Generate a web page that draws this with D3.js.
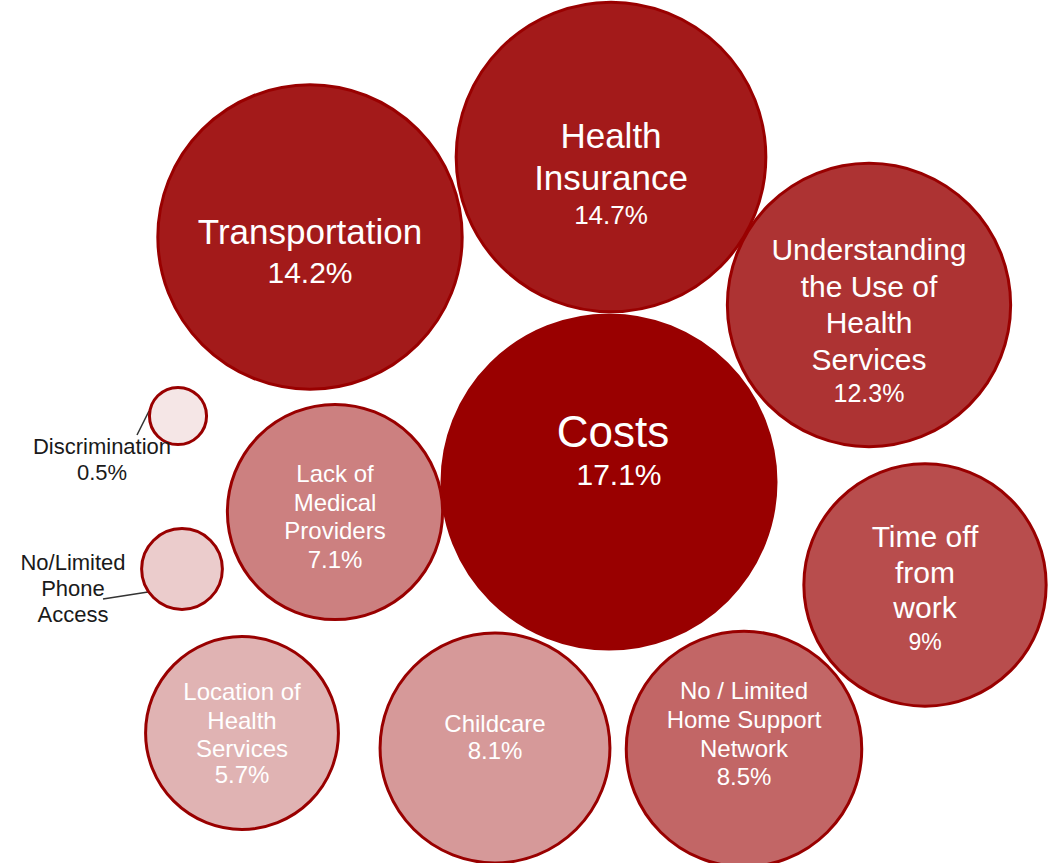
<!DOCTYPE html>
<html>
<head>
<meta charset="utf-8">
<script src="https://cdn.jsdelivr.net/npm/d3@7"></script>
<style>
  html, body { margin: 0; padding: 0; background: #fff; }
  svg { display: block; font-family: Arial, "Liberation Sans", sans-serif; }
</style>
</head>
<body>
<div id="chart"></div>
<script>
// data
const categories = ["Costs", "Health Insurance", "Transportation", "Understanding the Use of Health Services",
  "Time off from work", "No / Limited Home Support Network", "Childcare", "Lack of Medical Providers",
  "Location of Health Services", "No/Limited Phone Access", "Discrimination"];
const values = [17.1, 14.7, 14.2, 12.3, 9, 8.5, 8.1, 7.1, 5.7, 1.0, 0.5];
const valueLabels = ["17.1%", "14.7%", "14.2%", "12.3%", "9%", "8.5%", "8.1%", "7.1%", "5.7%", "", "0.5%"];
const labelLines = [
  ["Costs"], ["Health", "Insurance"], ["Transportation"], ["Understanding", "the Use of", "Health", "Services"],
  ["Time off", "from", "work"], ["No / Limited", "Home Support", "Network"], ["Childcare"],
  ["Lack of", "Medical", "Providers"], ["Location of", "Health", "Services"], ["No/Limited", "Phone", "Access"],
  ["Discrimination"]
];

const data = categories.map(function(c, i) {
  return {name: c, value: values[i], pct: valueLabels[i], lines: labelLines[i]};
});

// layout (bubble centres, label placement) - kept apart from the data
const centers = {
  "Costs": [609, 482], "Health Insurance": [611, 157], "Transportation": [310, 237],
  "Understanding the Use of Health Services": [869, 305], "Time off from work": [925, 585],
  "No / Limited Home Support Network": [744, 749], "Childcare": [495, 748],
  "Lack of Medical Providers": [335, 512], "Location of Health Services": [242, 733],
  "No/Limited Phone Access": [182, 569], "Discrimination": [178, 416]
};
// first baseline offset, line height, title size, value size, value gap, outside label pos
const labelStyle = {
  "Costs": {dy: -35, lh: 38, fs: 44, vs: 30, dx: 4, vdx: 10},
  "Health Insurance": {dy: -9, lh: 42, fs: 35, vs: 26, vgap: 34},
  "Transportation": {dy: 7, lh: 39, fs: 35, vs: 30},
  "Understanding the Use of Health Services": {dy: -45, lh: 36.7, fs: 30, vs: 25, vgap: 32},
  "Time off from work": {dy: -38, lh: 35.5, fs: 30, vs: 23, vgap: 32},
  "No / Limited Home Support Network": {dy: -50, lh: 29, fs: 24, vs: 24, vgap: 28},
  "Childcare": {dy: -16, lh: 27, fs: 24, vs: 24},
  "Lack of Medical Providers": {dy: -30, lh: 28.5, fs: 24, vs: 24},
  "Location of Health Services": {dy: -33, lh: 28.5, fs: 24, vs: 24, vgap: 26},
  "No/Limited Phone Access": {outside: [73, 570], lh: 26, fs: 22, vs: 22, lead: [[103, 599], [148, 592]]},
  "Discrimination": {outside: [102, 454], lh: 26, fs: 22, vs: 22, lead: [[137, 435], [149, 411]]}
};

const width = 1055, height = 863;

const svg = d3.select("#chart").append("svg")
    .attr("width", width)
    .attr("height", height);

// bubble area proportional to share
const r = d3.scaleSqrt()
    .domain([0, d3.max(values)])
    .range([0, 167]);

const color = d3.scaleOrdinal()
    .domain(categories)
    .range(["#990000", "#a31a1a", "#a31a1a", "#ad3333", "#b84d4d", "#c26666",
            "#d69999", "#cc8080", "#e0b3b3", "#ebcccc", "#f5e6e6"]);

// leader lines for the small bubbles
svg.selectAll(".lead")
    .data(data.filter(function(d) { return labelStyle[d.name].lead; }))
    .enter().append("line")
    .attr("class", "lead")
    .attr("x1", function(d) { return labelStyle[d.name].lead[0][0]; })
    .attr("y1", function(d) { return labelStyle[d.name].lead[0][1]; })
    .attr("x2", function(d) { return labelStyle[d.name].lead[1][0]; })
    .attr("y2", function(d) { return labelStyle[d.name].lead[1][1]; })
    .attr("stroke", "#333")
    .attr("stroke-width", 1.5);

// bubbles
svg.selectAll(".bubble")
    .data(data)
    .enter().append("circle")
    .attr("class", "bubble")
    .attr("cx", function(d) { return centers[d.name][0]; })
    .attr("cy", function(d) { return centers[d.name][1]; })
    .attr("r", function(d) { return r(d.value); })
    .attr("fill", function(d) { return color(d.name); })
    .attr("stroke", "#990000")
    .attr("stroke-width", 3);

// labels
data.forEach(function(d) {
  const s = labelStyle[d.name];
  const c = centers[d.name];
  const inside = !s.outside;
  const x = inside ? c[0] + (s.dx || 0) : s.outside[0];
  const y0 = inside ? c[1] + s.dy : s.outside[1];
  const t = svg.append("text")
      .attr("text-anchor", "middle")
      .attr("fill", inside ? "#fff" : "#1a1a1a");

  d.lines.forEach(function(line, i) {
    t.append("tspan")
        .attr("x", x)
        .attr("y", y0 + i * s.lh)
        .attr("font-size", s.fs)
        .text(line);
  });
  if (d.pct) {
    const last = y0 + (d.lines.length - 1) * s.lh;
    t.append("tspan")
        .attr("x", inside ? c[0] + (s.vdx || 0) : x)
        .attr("y", last + (s.vgap || s.lh))
        .attr("font-size", s.vs)
        .text(d.pct);
  }
});
</script>
</body>
</html>
